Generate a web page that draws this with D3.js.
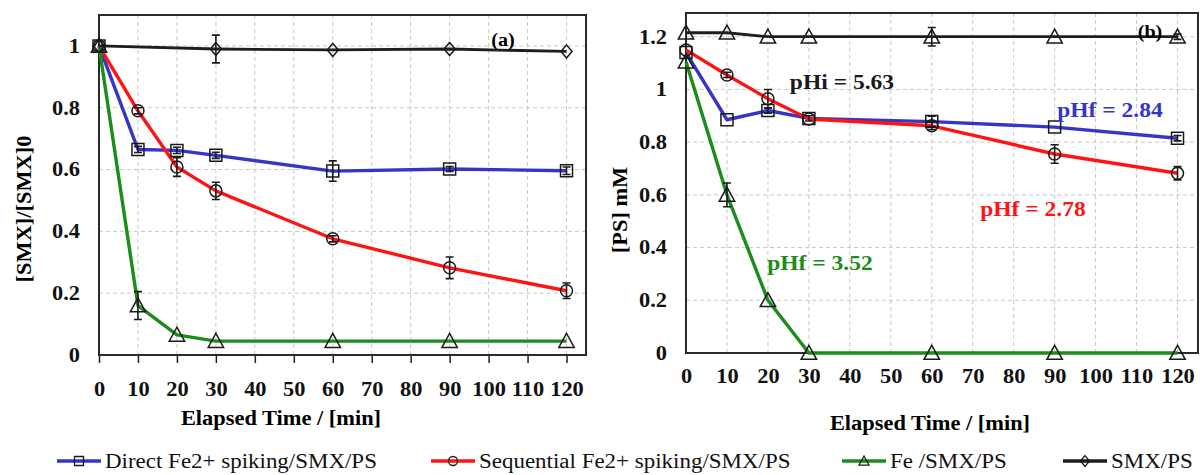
<!DOCTYPE html>
<html>
<head>
<meta charset="utf-8">
<script src="https://cdn.jsdelivr.net/npm/d3@7"></script>
<style>
  body{margin:0;background:#fff;}
</style>
</head>
<body>
<div class="canvas"></div>
<script>
// ---- data ----
const times=[0,10,20,30,60,90,120];
const smxTimesA=[0,30,60,90,120];
const xTicks=[0,10,20,30,40,50,60,70,80,90,100,110,120];
const yTicksA=[0,0.2,0.4,0.6,0.8,1];
const yTicksB=[0,0.2,0.4,0.6,0.8,1,1.2];

// panel (a) [SMX]/[SMX]0
const directA=[1,0.665,0.662,0.646,0.595,0.602,0.596];
const directAErr=[0,0.01,0.01,0.01,0.033,0.008,0.012];
const seqA=[1,0.79,0.608,0.531,0.376,0.282,0.208];
const seqAErr=[0,0.01,0.03,0.028,0.01,0.035,0.025];
const feA=[1,0.16,0.065,0.045,0.045,0.045,0.045];
const feAErr=[0,0.045,0,0,0,0,0];
const smxA=[1,0.99,0.987,0.99,0.982];
const smxAErr=[0,0.045,0,0,0];

// panel (b) [PS] mM
const directB=[1.14,0.885,0.92,0.89,0.878,0.857,0.815];
const directBErr=[0,0,0.01,0.01,0.02,0,0.01];
const seqB=[1.15,1.055,0.965,0.888,0.862,0.755,0.682];
const seqBErr=[0,0.01,0.035,0,0.015,0.035,0.025];
const feB=[1.105,0.6,0.2,0,0,0,0];
const feBErr=[0,0.045,0,0,0,0,0];
const smxB=[1.215,1.215,1.2,1.2,1.2,1.2,1.2];
const smxBErr=[0,0,0,0,0.035,0,0.01];

const seriesNames=['Direct Fe2+ spiking/SMX/PS','Sequential Fe2+ spiking/SMX/PS','Fe /SMX/PS','SMX/PS'];
const colors=['#3535c8','#ff1414','#1c8c1c','#1e1e1e'];
const FONT='"Liberation Serif","Times New Roman",serif';

const svg=d3.select('.canvas')
      .append('svg')
        .attr('width',1200)
        .attr('height',475)
        .attr('font-family',FONT);

// marker paths centred on 0,0
const marker=(shape,s)=>{
  const h=s/2;
  if(shape==='square') return `M${-h},${-h}H${h}V${h}H${-h}Z`;
  if(shape==='circle') return `M${-h},0A${h},${h} 0 1,0 ${h},0A${h},${h} 0 1,0 ${-h},0Z`;
  if(shape==='triangle') return `M0,${-s*0.55}L${s*0.55},${s*0.45}L${-s*0.55},${s*0.45}Z`;
  if(shape==='diamond') return `M0,${-s*0.6}L${h},0L0,${s*0.6}L${-h},0Z`;
};

const drawPanel=(cfg)=>{
  const x=d3.scaleLinear().domain([0,125]).range([cfg.left,cfg.right]);
  const y=d3.scaleLinear().domain([0,cfg.yMax]).range([cfg.bottom,cfg.top]);
  const g=svg.append('g');

  // grid
  g.selectAll('.vgrid').data(xTicks.filter(d=>d>0)).enter().append('line')
    .attr('x1',d=>x(d)).attr('x2',d=>x(d)).attr('y1',cfg.top).attr('y2',cfg.bottom)
    .attr('stroke','#c8c8c8').attr('stroke-width',1).attr('stroke-dasharray','4,3');
  g.selectAll('.hgrid').data(cfg.yTicks.filter(d=>d>0)).enter().append('line')
    .attr('x1',cfg.left).attr('x2',cfg.right).attr('y1',d=>y(d)).attr('y2',d=>y(d))
    .attr('stroke','#c8c8c8').attr('stroke-width',1).attr('stroke-dasharray','4,3');

  // axes
  const xAxis=d3.axisBottom(x).tickValues(xTicks).tickSize(cfg.xTickLen).tickPadding(cfg.xPad).tickFormat(d3.format('d'));
  const yAxis=d3.axisLeft(y).tickValues(cfg.yTicks).tickSize(0).tickPadding(19).tickFormat(d=>d3.format('')(+d.toFixed(1)));
  const xg=g.append('g').attr('transform',`translate(0,${cfg.bottom})`).call(xAxis);
  const yg=g.append('g').attr('transform',`translate(${cfg.left},0)`).call(yAxis);
  [xg,yg].forEach(a=>{
    a.attr('font-family',FONT);
    a.select('.domain').remove();
    a.selectAll('line').attr('stroke','#222').attr('stroke-width',1.5);
    a.selectAll('text').attr('font-size',20).attr('font-weight','bold').attr('fill','#111');
  });

  // frame
  g.append('rect').attr('x',cfg.left).attr('y',cfg.top)
    .attr('width',cfg.right-cfg.left).attr('height',cfg.bottom-cfg.top)
    .attr('fill','none').attr('stroke','#2a2a2a').attr('stroke-width',2);

  // series
  const line=d3.line().x(d=>x(d.t)).y(d=>y(d.v));
  cfg.series.forEach(s=>{
    const pts=s.t.map((t,i)=>({t:t,v:s.v[i],e:s.e[i]}));
    g.append('path').datum(pts).attr('d',line)
      .attr('fill','none').attr('stroke',s.color).attr('stroke-width',s.width||3.4)
      .attr('stroke-linejoin','round');
    s.pts=pts;
  });
  cfg.series.forEach(s=>{
    const eb=s.pts.filter(d=>d.e>0);
    g.selectAll(null).data(eb).enter().append('path')
      .attr('d',d=>`M${x(d.t)},${y(d.v+d.e)}V${y(d.v-d.e)}M${x(d.t)-4},${y(d.v+d.e)}h8M${x(d.t)-4},${y(d.v-d.e)}h8`)
      .attr('stroke','#1a1a1a').attr('stroke-width',1.6).attr('fill','none');
    g.selectAll(null).data(s.pts).enter().append('path')
      .attr('transform',d=>`translate(${x(d.t)},${y(d.v)})`)
      .attr('d',marker(s.shape,s.size))
      .attr('fill','none').attr('stroke','#1a1a1a').attr('stroke-width',1.5);
  });

  // titles
  g.append('text').attr('x',cfg.xTitleX).attr('y',cfg.xTitleY).attr('text-anchor','middle')
    .attr('font-size',20).attr('font-weight','bold').text('Elapsed Time / [min]');
  g.append('text').attr('transform',`translate(${cfg.yTitleX},${cfg.yTitleY}) rotate(-90)`)
    .attr('text-anchor','middle').attr('dy','0.35em')
    .attr('font-size',20).attr('font-weight','bold').text(cfg.yTitle);
  g.append('text').attr('x',cfg.labelX).attr('y',cfg.labelY).attr('text-anchor','middle').attr('dy','0.35em')
    .attr('font-size',18).attr('font-weight','bold').text(cfg.label);
  return g;
};

drawPanel({
  left:99,right:586,top:15,bottom:355,yMax:1.1,yTicks:yTicksA,xTickLen:8,xPad:19,
  xTitleX:281,xTitleY:425,yTitleX:24,yTitleY:209,yTitle:'[SMX]/[SMX]0',
  label:'(a)',labelX:503,labelY:40,
  series:[
    {t:times,v:directA,e:directAErr,color:colors[0],shape:'square',size:12},
    {t:times,v:seqA,e:seqAErr,color:colors[1],shape:'circle',size:12},
    {t:times,v:feA,e:feAErr,color:colors[2],shape:'triangle',size:14},
    {t:smxTimesA,v:smxA,e:smxAErr,color:colors[3],shape:'diamond',size:11,width:2.8}
  ]
});

const gb=drawPanel({
  left:686,right:1198,top:13,bottom:353,yMax:1.29,yTicks:yTicksB,xTickLen:0,xPad:16,
  xTitleX:930,xTitleY:430,yTitleX:620,yTitleY:210,yTitle:'[PS] mM',
  label:'(b)',labelX:1150,labelY:32,
  series:[
    {t:times,v:directB,e:directBErr,color:colors[0],shape:'square',size:12},
    {t:times,v:seqB,e:seqBErr,color:colors[1],shape:'circle',size:12},
    {t:times,v:feB,e:feBErr,color:colors[2],shape:'triangle',size:14},
    {t:times,v:smxB,e:smxBErr,color:colors[3],shape:'triangle',size:14,width:2.8}
  ]
});

// pH annotations in panel (b)
const phLabels=['pHi = 5.63','pHf = 2.84','pHf = 2.78','pHf = 3.52'];
const phColors=['#1a1a1a',colors[0],colors[1],colors[2]];
const phPos=[[842,82],[1110,110],[1033,209],[820,263]];
phLabels.forEach((t,i)=>{
  gb.append('text').attr('x',phPos[i][0]).attr('y',phPos[i][1]).attr('dy','0.35em')
    .attr('text-anchor','middle').attr('font-size',21).attr('font-weight','bold')
    .attr('fill',phColors[i]).text(t);
});

// legend
const legendX=[57,431,842,1063];
const legendShapes=['square','circle','triangle','diamond'];
const lg=svg.append('g').attr('transform','translate(0,461)');
seriesNames.forEach((n,i)=>{
  const it=lg.append('g').attr('transform',`translate(${legendX[i]},0)`);
  it.append('line').attr('x1',0).attr('x2',44).attr('stroke',colors[i]).attr('stroke-width',3.5);
  it.append('path').attr('transform','translate(22,0)').attr('d',marker(legendShapes[i],9))
    .attr('fill','none').attr('stroke','#1a1a1a').attr('stroke-width',1.3);
  it.append('text').attr('x',48).attr('dy','0.35em').attr('font-size',20.5).attr('fill','#111').text(n);
});

// the source figure's lettering is a bit wider than the font: stretch it horizontally
svg.selectAll('text').each(function(){
  const len=this.getComputedTextLength();
  d3.select(this).attr('textLength',len*1.12).attr('lengthAdjust','spacingAndGlyphs');
});
</script>
</body>
</html>
